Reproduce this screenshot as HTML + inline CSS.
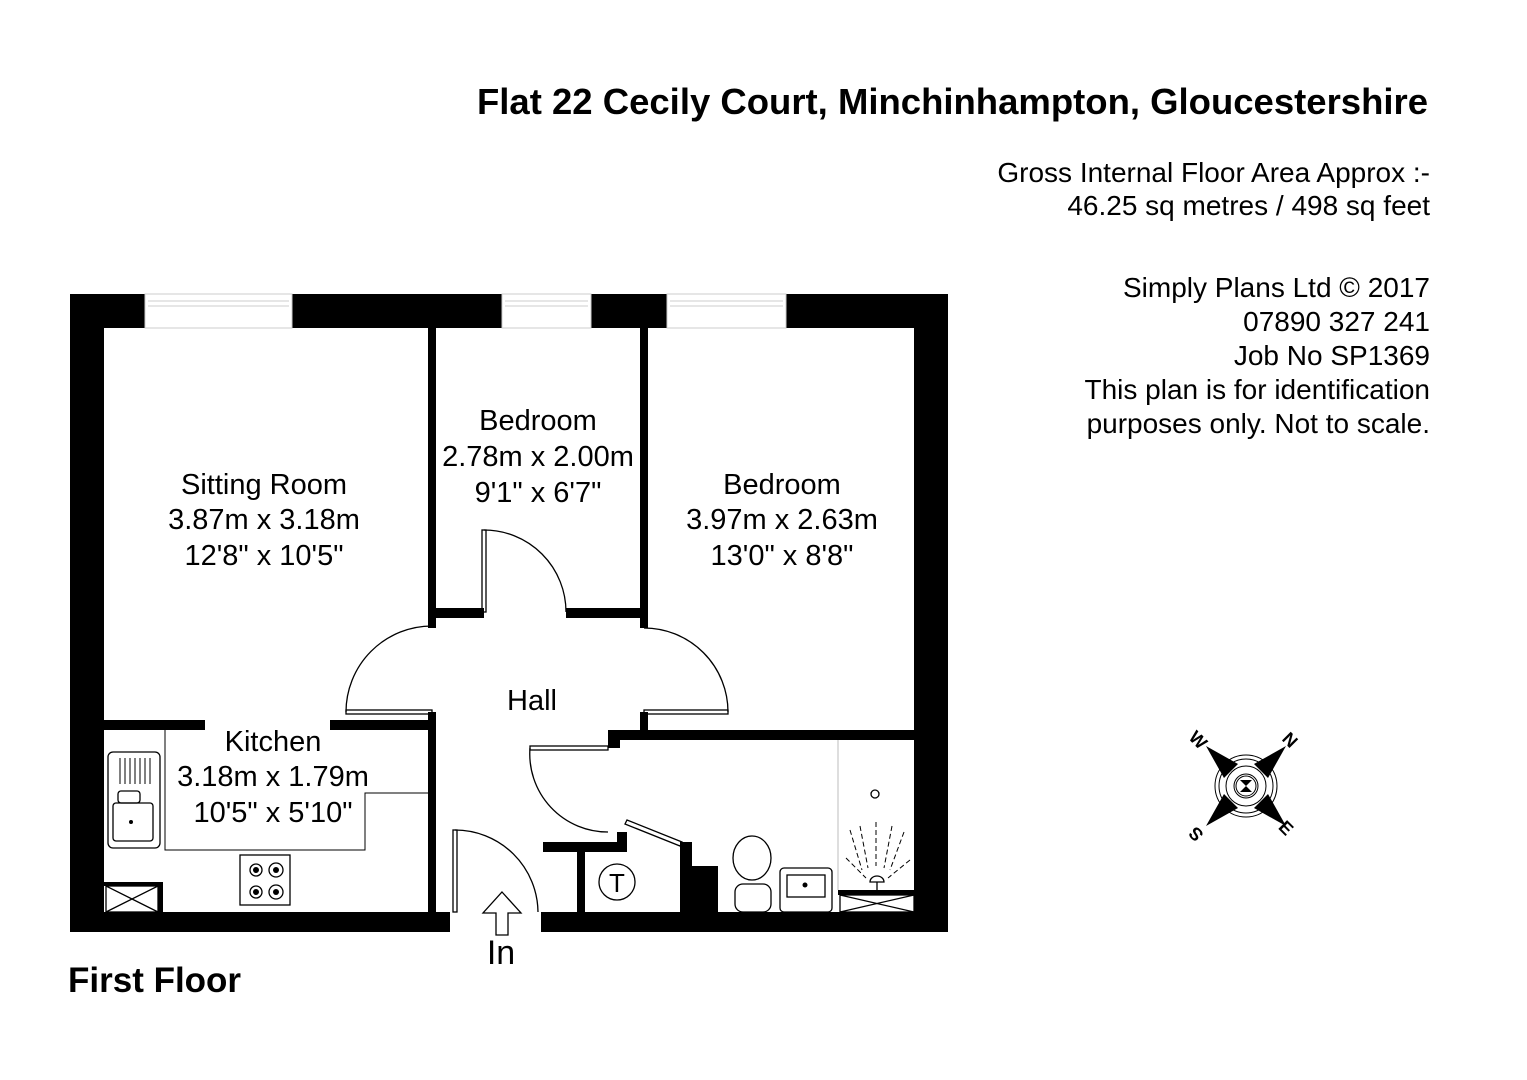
<!DOCTYPE html>
<html><head><meta charset="utf-8"><style>
html,body{margin:0;padding:0;background:#fff;}
svg{display:block}
text{font-family:"Liberation Sans",Arial,sans-serif;fill:#000}
</style></head><body>
<svg width="1527" height="1080" viewBox="0 0 1527 1080" xmlns="http://www.w3.org/2000/svg">
<rect width="1527" height="1080" fill="#fff"/>
<text x="1428" y="114" font-size="36" font-weight="bold" text-anchor="end" textLength="951" lengthAdjust="spacingAndGlyphs">Flat 22 Cecily Court, Minchinhampton, Gloucestershire</text>
<g font-size="28" text-anchor="end">
<text x="1430" y="182">Gross Internal Floor Area Approx :-</text>
<text x="1430" y="215">46.25 sq metres / 498 sq feet</text>
<text x="1430" y="297">Simply Plans Ltd © 2017</text>
<text x="1430" y="331">07890 327 241</text>
<text x="1430" y="365">Job No SP1369</text>
<text x="1430" y="399">This plan is for identification</text>
<text x="1430" y="433">purposes only. Not to scale.</text>
</g>
<text x="68" y="992" font-size="35" font-weight="bold">First Floor</text>

<g fill="#000">
<rect x="70" y="294" width="878" height="34"/>
<rect x="70" y="294" width="34" height="638"/>
<rect x="914" y="294" width="34" height="638"/>
<rect x="70" y="912" width="380" height="20"/>
<rect x="541" y="912" width="407" height="20"/>
<rect x="428" y="328" width="8" height="300"/>
<rect x="640" y="328" width="8" height="300"/>
<rect x="436" y="608" width="48" height="10"/>
<rect x="566" y="608" width="74" height="10"/>
<rect x="428" y="712" width="8" height="200"/>
<rect x="640" y="712" width="8" height="28"/>
<rect x="104" y="720" width="101" height="10"/>
<rect x="330" y="720" width="98" height="10"/>
<rect x="608" y="730" width="306" height="10"/>
<rect x="608" y="730" width="12" height="18"/>
<rect x="543" y="842" width="84" height="10"/>
<rect x="617" y="832" width="10" height="20"/>
<rect x="577" y="842" width="8" height="70"/>
<rect x="680" y="842" width="12" height="70"/>
<rect x="692" y="866" width="26" height="46"/>
<rect x="104" y="882" width="58" height="4"/>
<rect x="158" y="882" width="5" height="30"/>
<rect x="838" y="890" width="76" height="5"/>
</g>
<g fill="#fff" stroke="#ccc" stroke-width="1">
<rect x="145" y="294" width="147" height="34"/>
<rect x="502" y="294" width="89" height="34"/>
<rect x="667" y="294" width="119" height="34"/>
<line x1="148" y1="301" x2="289" y2="301"/><line x1="148" y1="306" x2="289" y2="306"/>
<line x1="505" y1="301" x2="588" y2="301"/><line x1="505" y1="306" x2="588" y2="306"/>
<line x1="670" y1="301" x2="783" y2="301"/><line x1="670" y1="306" x2="783" y2="306"/>
</g>
<g fill="none" stroke="#000" stroke-width="1.3">
<rect x="482" y="530" width="4" height="82"/>
<path d="M484 530 A82 82 0 0 1 566 612"/>
<rect x="346" y="710" width="86" height="4"/>
<path d="M346 712 A86 86 0 0 1 432 626"/>
<rect x="644" y="710" width="84" height="4"/>
<path d="M728 712 A84 84 0 0 0 644 628"/>
<rect x="530" y="746" width="78" height="4"/>
<path d="M530 748 A78 78 0 0 0 608 832"/>
<rect x="453" y="830" width="4" height="82"/>
<path d="M455 830 A83 83 0 0 1 538 912"/>
<path d="M627 820 L682 842 L680 846 L625 824 Z"/>
<path d="M502 892 L521 913 L508 913 L508 935 L496 935 L496 913 L483 913 Z"/>
<path d="M165 730 L165 850 L365 850 L365 793 L428 793" stroke-width="1"/>
<rect x="108" y="752" width="52" height="96" rx="5"/>
<rect x="113" y="803" width="40" height="38" rx="3"/>
<rect x="118" y="791" width="22" height="12" rx="3"/>
<path d="M120 758 v26 M125 758 v26 M130 758 v26 M135 758 v26 M140 758 v26 M145 758 v26 M150 758 v26" stroke-width="1"/>
<rect x="240" y="855" width="50" height="50"/>
<circle cx="256" cy="870" r="6"/><circle cx="276" cy="870" r="7"/>
<circle cx="256" cy="892" r="6"/><circle cx="276" cy="892" r="7"/>
<rect x="106" y="886" width="52" height="26"/>
<path d="M106 886 L158 912 M158 886 L106 912"/>
<rect x="840" y="895" width="74" height="17"/>
<path d="M840 895 L914 912 M914 895 L840 912"/>
<circle cx="617" cy="882" r="18"/>
<ellipse cx="752" cy="858" rx="19" ry="22"/>
<rect x="735" y="884" width="36" height="28" rx="8"/>
<rect x="780" y="868" width="52" height="44" rx="4"/>
<rect x="787" y="875" width="38" height="22"/>
<line x1="838" y1="740" x2="838" y2="890" stroke="#ccc"/>
<circle cx="875" cy="794" r="4"/>
<path d="M850 830 L862 870 M860 826 L868 868 M876 822 L876 866 M892 826 L884 868 M904 832 L890 870 M846 858 L866 878 M910 860 L888 878" stroke-dasharray="5 3" stroke-width="1"/>
<path d="M870 882 A7 6 0 0 1 884 882 Z M877 882 v8"/>
</g>
<circle cx="805" cy="885" r="2.5" fill="#000"/>
<circle cx="131" cy="822" r="2" fill="#000"/>
<circle cx="256" cy="870" r="3" fill="#000"/><circle cx="276" cy="870" r="3" fill="#000"/>
<circle cx="256" cy="892" r="3" fill="#000"/><circle cx="276" cy="892" r="3" fill="#000"/>

<g font-size="29" text-anchor="middle">
<text x="264" y="494">Sitting Room</text>
<text x="264" y="529">3.87m x 3.18m</text>
<text x="264" y="565">12'8" x 10'5"</text>
<text x="538" y="430">Bedroom</text>
<text x="538" y="466">2.78m x 2.00m</text>
<text x="538" y="502">9'1" x 6'7"</text>
<text x="782" y="494">Bedroom</text>
<text x="782" y="529">3.97m x 2.63m</text>
<text x="782" y="565">13'0" x 8'8"</text>
<text x="532" y="710">Hall</text>
<text x="273" y="751">Kitchen</text>
<text x="273" y="786">3.18m x 1.79m</text>
<text x="273" y="822">10'5" x 5'10"</text>
<text x="617" y="892" font-size="26">T</text>
<text x="501" y="964" font-size="34">In</text>
</g>

<g transform="translate(1246,786)">
<g fill="none" stroke="#000" stroke-width="1">
<circle r="31"/><circle r="27"/><circle r="20"/><circle r="12"/><circle r="10"/>
</g>
<g fill="#000">
<path d="M-8 -22 L-40 -40 L-22 -8 Z"/>
<path d="M8 -22 L40 -40 L22 -8 Z"/>
<path d="M-8 22 L-40 40 L-22 8 Z"/>
<path d="M8 22 L40 40 L22 8 Z"/>
<path d="M-6 -6 L6 -6 L0 0 Z M-6 6 L6 6 L0 0 Z"/>
</g>
<g font-size="18" font-weight="bold" text-anchor="middle">
<text x="-48" y="-40" transform="rotate(45 -48 -46)">W</text>
<text x="44" y="-40" transform="rotate(45 44 -46)">N</text>
<text x="-50" y="54" transform="rotate(-135 -50 48)">S</text>
<text x="40" y="48" transform="rotate(45 40 42)">E</text>
</g>
</g>
</svg>
</body></html>
